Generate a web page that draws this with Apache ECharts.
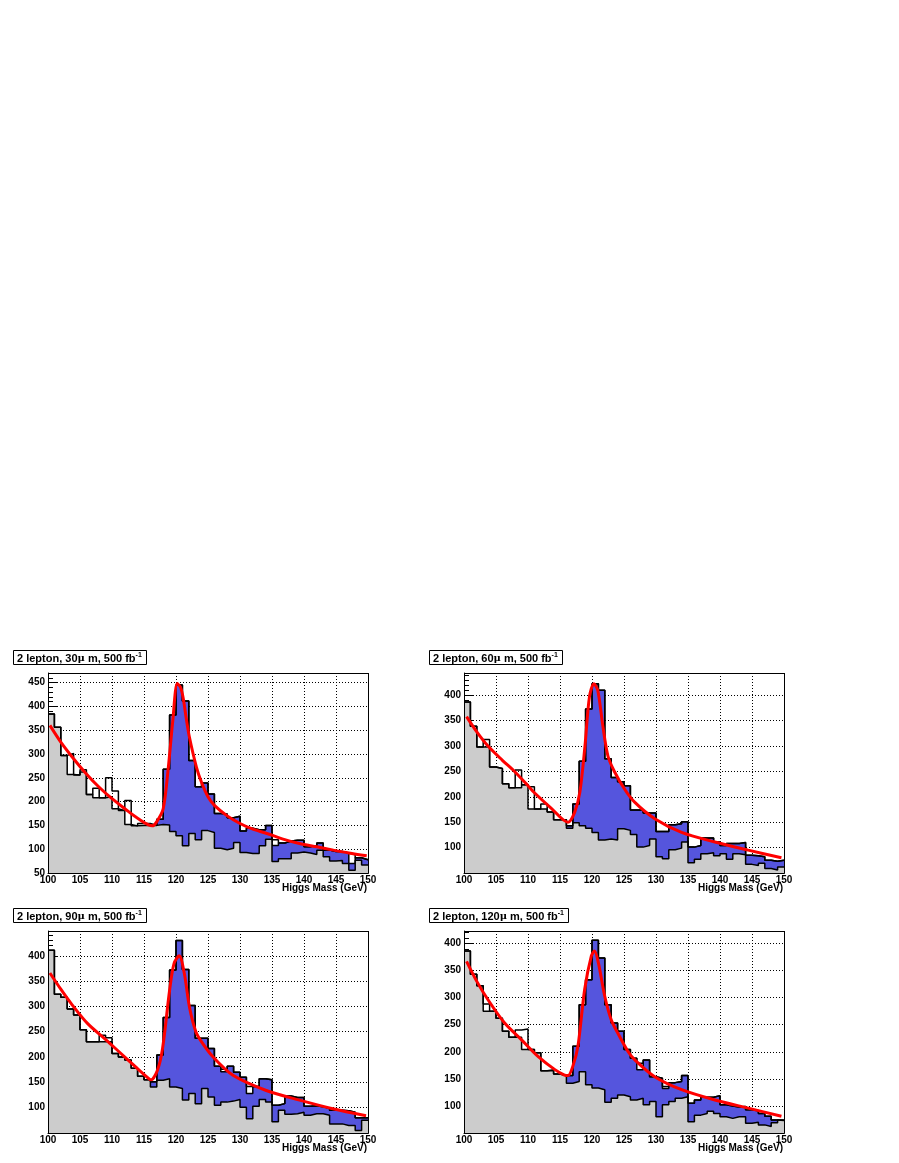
<!DOCTYPE html>
<html><head><meta charset="utf-8">
<script src="https://cdn.jsdelivr.net/npm/echarts@6/dist/echarts.min.js"></script>
<style>html,body{margin:0;padding:0;background:#fff}#c{width:899px;height:1163px}</style>
</head><body><div id="c"></div>
<script>
// bin lower edges (1 GeV bins, 100..150)
const binEdges = [100,101,102,103,104,105,106,107,108,109,110,111,112,113,114,115,116,117,118,119,120,121,122,123,124,125,126,127,128,129,130,131,132,133,134,135,136,137,138,139,140,141,142,143,144,145,146,147,148,149,150];
const xTicks = [100,105,110,115,120,125,130,135,140,145,150];

// 30 micron
const data30 = [384,356,297,301,256,267,215,228,208,250,222,181,202,149,154,154,150,163,268,382,445,411,286,231,239,216,175,174,166,169,138,144,141,141,150,120,113,117,119,119,105,108,113,98,95,95,92,88,82,78];
const sig30  = [384,356,297,301,256,267,215,228,208,250,222,181,202,149,154,154,150,163,268,382,445,411,286,231,239,216,175,174,166,169,138,144,141,141,150,108,113,117,119,119,105,108,113,98,95,95,92,70,82,78];
const bkg30  = [384,356,297,257,256,262,215,208,208,210,185,181,152,149,150,150,150,152,151,137,128,107,133,120,139,135,102,99,102,114,93,91,91,107,121,74,80,80,92,94,92,89,98,84,75,76,70,56,77,67];
const fit30X = [100.3,102,104,106,108,110,112,114,116.3,117,118,118.75,119.5,120.2,120.7,121.1,121.6,122.1,123.2,124,125,126,128,130,132,134.2,137,139.3,142,144.6,147,149.8];
const fit30Y = [360,325,290,258,230,206,185,165,149,158,185,265,370,448,440,419,375,335,272,240,210,192,170,154,142,133,120,112,105,98,92,86];

// 60 micron
const data60 = [387,339,298,313,259,256,226,218,253,224,220,176,186,170,155,155,143,186,270,373,423,410,275,238,230,222,174,174,168,168,132,132,145,147,151,101,104,119,119,111,104,108,108,110,85,84,82,75,73,75];
const sig60  = [387,339,298,313,259,256,226,218,253,224,220,176,186,170,155,155,143,186,270,373,423,410,275,238,230,222,174,174,168,168,132,132,145,147,151,101,104,119,119,111,104,108,108,110,85,84,82,75,73,75];
const bkg60  = [387,339,298,298,259,256,226,218,218,224,176,176,176,170,155,155,138,149,143,138,130,115,117,115,137,134,126,101,104,117,82,78,96,99,111,70,77,88,90,84,88,77,88,86,67,65,69,59,56,62];
const fit60X = [100.4,102,103.75,106,107.9,110,111,113.6,116.25,117.3,118.1,118.9,119.6,120.3,120.9,121.7,122.5,123.5,125.1,126.7,129.8,134,139.2,144.4,149.6];
const fit60Y = [358,328,300,272,250,222,208,178,150,170,209,300,397,423,410,339,280,250,215,189,157,130,111,95,80];

// 90 micron
const data90 = [411,324,318,295,283,254,230,230,243,238,207,200,194,178,162,155,151,204,278,372,430,373,302,237,237,217,182,176,182,170,160,142,142,157,155,105,108,123,120,120,103,104,102,99,95,95,94,91,80,80];
const sig90  = [411,324,318,295,283,254,230,230,243,238,207,200,194,178,162,155,151,204,278,372,430,373,302,237,237,217,182,171,182,170,160,128,142,157,155,105,108,123,120,120,103,104,102,99,95,95,94,91,80,80];
const bkg90  = [411,324,318,295,283,254,230,230,230,230,207,200,194,178,162,155,141,154,157,141,138,115,128,108,138,121,105,111,113,116,101,78,103,116,111,72,95,87,88,91,85,88,88,85,68,68,65,65,55,75];
const fit90X = [100.3,102,103.6,106.2,108.8,111.4,114,115.8,116.1,117.1,117.9,119,119.7,120.5,121.3,122.1,123.1,124,125.8,128.9,134.1,139.3,144.5,149.7];
const fit90Y = [366,334,306,266,237,207,177,157,155,174,217,332,385,400,365,299,250,230,200,164,134,115,98,84];

// 120 micron
const data120 = [386,343,322,288,275,262,238,227,240,242,204,198,165,167,159,156,156,210,287,333,406,373,287,253,238,204,188,179,185,154,151,136,143,145,156,105,111,116,116,119,102,100,98,99,93,91,86,81,74,73];
const sig120  = [386,343,322,288,275,262,238,227,240,242,204,198,165,167,159,156,156,210,287,333,406,373,287,253,238,204,188,167,185,154,151,132,143,145,156,105,111,116,116,119,102,100,98,99,93,91,86,81,74,73];
const bkg120  = [386,343,322,275,275,262,238,227,227,204,204,198,165,165,159,156,142,145,163,139,133,130,107,114,120,117,111,114,102,108,80,102,108,114,117,71,83,86,90,86,80,77,80,80,68,70,65,62,69,74];
const fit120X = [100.4,102,103.75,106.35,109,111.6,114.2,115.7,116.25,117,117.8,118.85,119.9,120.4,121,122,123,124,125.6,126.7,129.8,134,139.2,144.4,149.6];
const fit120Y = [367,330,296,253,222,191,167,157,156,173,210,315,377,386,364,302,259,235,201,185,154,130,111,96,81];

const titleSizes = ['30','60','90','120'];
const xTitle = 'Higgs Mass (GeV)';

const panels = [
  {sz:titleSizes[0], d:data30, s:sig30, b:bkg30, fx:fit30X, fy:fit30Y, ymin:50, ymax:470, left:48, top:673, h:200, showMin:true},
  {sz:titleSizes[1], d:data60, s:sig60, b:bkg60, fx:fit60X, fy:fit60Y, ymin:50, ymax:444, left:464, top:673, h:200, showMin:false},
  {sz:titleSizes[2], d:data90, s:sig90, b:bkg90, fx:fit90X, fy:fit90Y, ymin:50, ymax:449, left:48, top:931, h:202, showMin:false},
  {sz:titleSizes[3], d:data120, s:sig120, b:bkg120, fx:fit120X, fy:fit120Y, ymin:50, ymax:423, left:464, top:931, h:202, showMin:false}
];
const W = 320;
const FONT = 'Liberation Sans';

function hist(vals, startIdx){
  const pts = [];
  for (let i = startIdx; i < vals.length; i++) pts.push([binEdges[i], vals[i]]);
  pts.push([binEdges[vals.length], vals[vals.length-1]]);
  return pts;
}

const grid=[], xAxis=[], yAxis=[], series=[], title=[], graphic=[];
panels.forEach((p, k) => {
  grid.push({left:p.left, top:p.top, width:W, height:p.h, containLabel:false, outerBoundsMode:'none'});
  const tickStyle = {color:'#000', width:1};
  xAxis.push({type:'value', gridIndex:k, min:100, max:150, interval:5,
    axisLine:{show:true, onZero:false, lineStyle:tickStyle},
    axisTick:{show:true, inside:true, length:8, lineStyle:tickStyle},
    minorTick:{show:true, splitNumber:5, length:4, lineStyle:tickStyle},
    splitLine:{show:true, lineStyle:{color:'#000', width:1, type:[1,2]}},
    axisLabel:{color:'#000', fontFamily:FONT, fontWeight:'bold', fontSize:10, margin:2,
      formatter: v => (xTicks.indexOf(v) >= 0 ? String(v) : '')}
  });
  yAxis.push({type:'value', gridIndex:k, min:p.ymin, max:p.ymax, interval:50,
    axisLine:{show:true, onZero:false, lineStyle:tickStyle},
    axisTick:{show:true, inside:true, length:9, lineStyle:tickStyle},
    minorTick:{show:true, splitNumber:5, length:5, lineStyle:tickStyle},
    splitLine:{show:true, lineStyle:{color:'#000', width:1, type:[1,2]}},
    axisLabel:{color:'#000', fontFamily:FONT, fontWeight:'bold', fontSize:10, margin:3,
      showMaxLabel:false, showMinLabel:p.showMin}
  });
  series.push({type:'line', xAxisIndex:k, yAxisIndex:k, step:'end', symbol:'none', z:2,
    data:hist(p.s, 16), lineStyle:{color:'#000', width:1.5},
    areaStyle:{color:'#5555dd', opacity:1, origin:'start'}, animation:false});
  series.push({type:'line', xAxisIndex:k, yAxisIndex:k, step:'end', symbol:'none', z:3,
    data:hist(p.b, 0), lineStyle:{color:'#000', width:1.5},
    areaStyle:{color:'#cccccc', opacity:1, origin:'start'}, animation:false});
  series.push({type:'line', xAxisIndex:k, yAxisIndex:k, step:'end', symbol:'none', z:4,
    data:hist(p.d, 0), lineStyle:{color:'#000', width:1.5}, animation:false});
  series.push({type:'line', xAxisIndex:k, yAxisIndex:k, symbol:'none', z:5, smooth:0.3,
    data:p.fx.map((x,i)=>[x, p.fy[i]]), lineStyle:{color:'#ff0000', width:3}, animation:false});

  title.push({left:p.left-35, top:p.top-23,
    text:'{a|2 lepton, ' + p.sz + '}{m|μ}{a| m, 500 fb}{s|-1}',
    borderColor:'#000', borderWidth:1, padding:[2,5,1,4], backgroundColor:'#fff',
    textStyle:{rich:{
      a:{fontFamily:FONT, fontWeight:'bold', fontSize:11, color:'#000', lineHeight:13},
      m:{fontFamily:'DejaVu Serif', fontSize:10, color:'#000', lineHeight:13},
      s:{fontFamily:FONT, fontWeight:'bold', fontSize:7, color:'#000', lineHeight:13, verticalAlign:'top'}
    }}});
  graphic.push({type:'rect', z:100, silent:true,
    shape:{x:p.left+0.5, y:p.top+0.5, width:W, height:p.h},
    style:{fill:null, stroke:'#000', lineWidth:1}});
  graphic.push({type:'text', z:100, silent:true, x:p.left+W-1, y:p.top+p.h+10,
    style:{text:xTitle, fill:'#000', font:'bold 10px "Liberation Sans"', textAlign:'right', textVerticalAlign:'top'}});
});

const chart = echarts.init(document.getElementById('c'), null, {renderer:'canvas'});
chart.setOption({animation:false, backgroundColor:'#fff', title, grid, xAxis, yAxis, series, graphic});
</script>
</body></html>
